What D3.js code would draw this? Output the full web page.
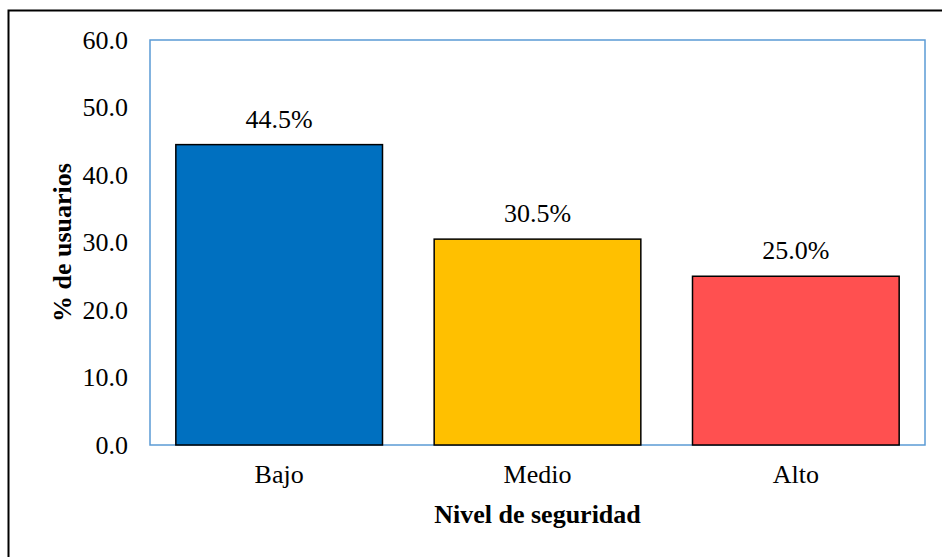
<!DOCTYPE html>
<html>
<head>
<meta charset="utf-8">
<script src="https://cdn.jsdelivr.net/npm/d3@7"></script>
<style>
  body { margin: 0; background: #fff; }
  text { font-family: "Liberation Serif", "Times New Roman", serif; fill: #000; }
</style>
</head>
<body>
<div id="vis"></div>
<script>
// data
var categories = ["Bajo", "Medio", "Alto"];
var values = [44.5, 30.5, 25.0];
var colors = ["#0070C0", "#FFC000", "#FF5050"];
var yTicks = [0, 10, 20, 30, 40, 50, 60];

var width = 942, height = 557;
var margin = {top: 40, left: 150, right: 17, bottom: 112};
var innerW = width - margin.left - margin.right;
var innerH = height - margin.top - margin.bottom;
var fontSize = "26px";

var svg = d3.select("#vis").append("svg")
  .attr("width", width)
  .attr("height", height);

// outer chart frame
svg.append("rect")
  .attr("x", 8.5).attr("y", 10.5)
  .attr("width", width).attr("height", height)
  .attr("fill", "none")
  .attr("stroke", "#000")
  .attr("stroke-width", 2);

var g = svg.append("g")
  .attr("transform", "translate(" + margin.left + "," + margin.top + ")");

var x = d3.scaleBand()
  .domain(categories)
  .range([0, innerW])
  .paddingInner(0.2)
  .paddingOuter(0.1);

var y = d3.scaleLinear()
  .domain([0, 60])
  .range([innerH, 0]);

// plot area frame
g.append("rect")
  .attr("x", 0).attr("y", 0)
  .attr("width", innerW).attr("height", innerH)
  .attr("fill", "none")
  .attr("stroke", "#5B9BD5")
  .attr("stroke-width", 1.5);

// y tick labels
var yAxis = g.append("g")
  .call(d3.axisLeft(y).tickValues(yTicks).tickSize(0).tickPadding(22)
    .tickFormat(d3.format(".1f")));
yAxis.select(".domain").remove();
yAxis.selectAll("text")
  .style("font-family", "Liberation Serif, serif")
  .style("font-size", fontSize);

// x tick labels
var xAxis = g.append("g")
  .attr("transform", "translate(0," + innerH + ")")
  .call(d3.axisBottom(x).tickSize(0).tickPadding(20));
xAxis.select(".domain").remove();
xAxis.selectAll("text")
  .style("font-family", "Liberation Serif, serif")
  .style("font-size", fontSize);

// bars
g.selectAll(".bar")
  .data(values)
  .enter().append("rect")
  .attr("class", "bar")
  .attr("x", function(d, i) { return x(categories[i]); })
  .attr("y", function(d) { return y(d); })
  .attr("width", x.bandwidth())
  .attr("height", function(d) { return innerH - y(d); })
  .attr("fill", function(d, i) { return colors[i]; })
  .attr("stroke", "#000")
  .attr("stroke-width", 1.5);

// value labels
g.selectAll(".val")
  .data(values)
  .enter().append("text")
  .attr("class", "val")
  .attr("x", function(d, i) { return x(categories[i]) + x.bandwidth() / 2; })
  .attr("y", function(d) { return y(d) - 17; })
  .attr("text-anchor", "middle")
  .style("font-size", fontSize)
  .text(function(d) { return d.toFixed(1) + "%"; });

// axis titles
svg.append("text")
  .attr("x", margin.left + innerW / 2)
  .attr("y", 523)
  .attr("text-anchor", "middle")
  .style("font-size", fontSize)
  .style("font-weight", "bold")
  .text("Nivel de seguridad");

svg.append("text")
  .attr("transform", "translate(71," + (margin.top + innerH / 2) + ") rotate(-90)")
  .attr("text-anchor", "middle")
  .style("font-size", fontSize)
  .style("font-weight", "bold")
  .text("% de usuarios");
</script>
</body>
</html>
